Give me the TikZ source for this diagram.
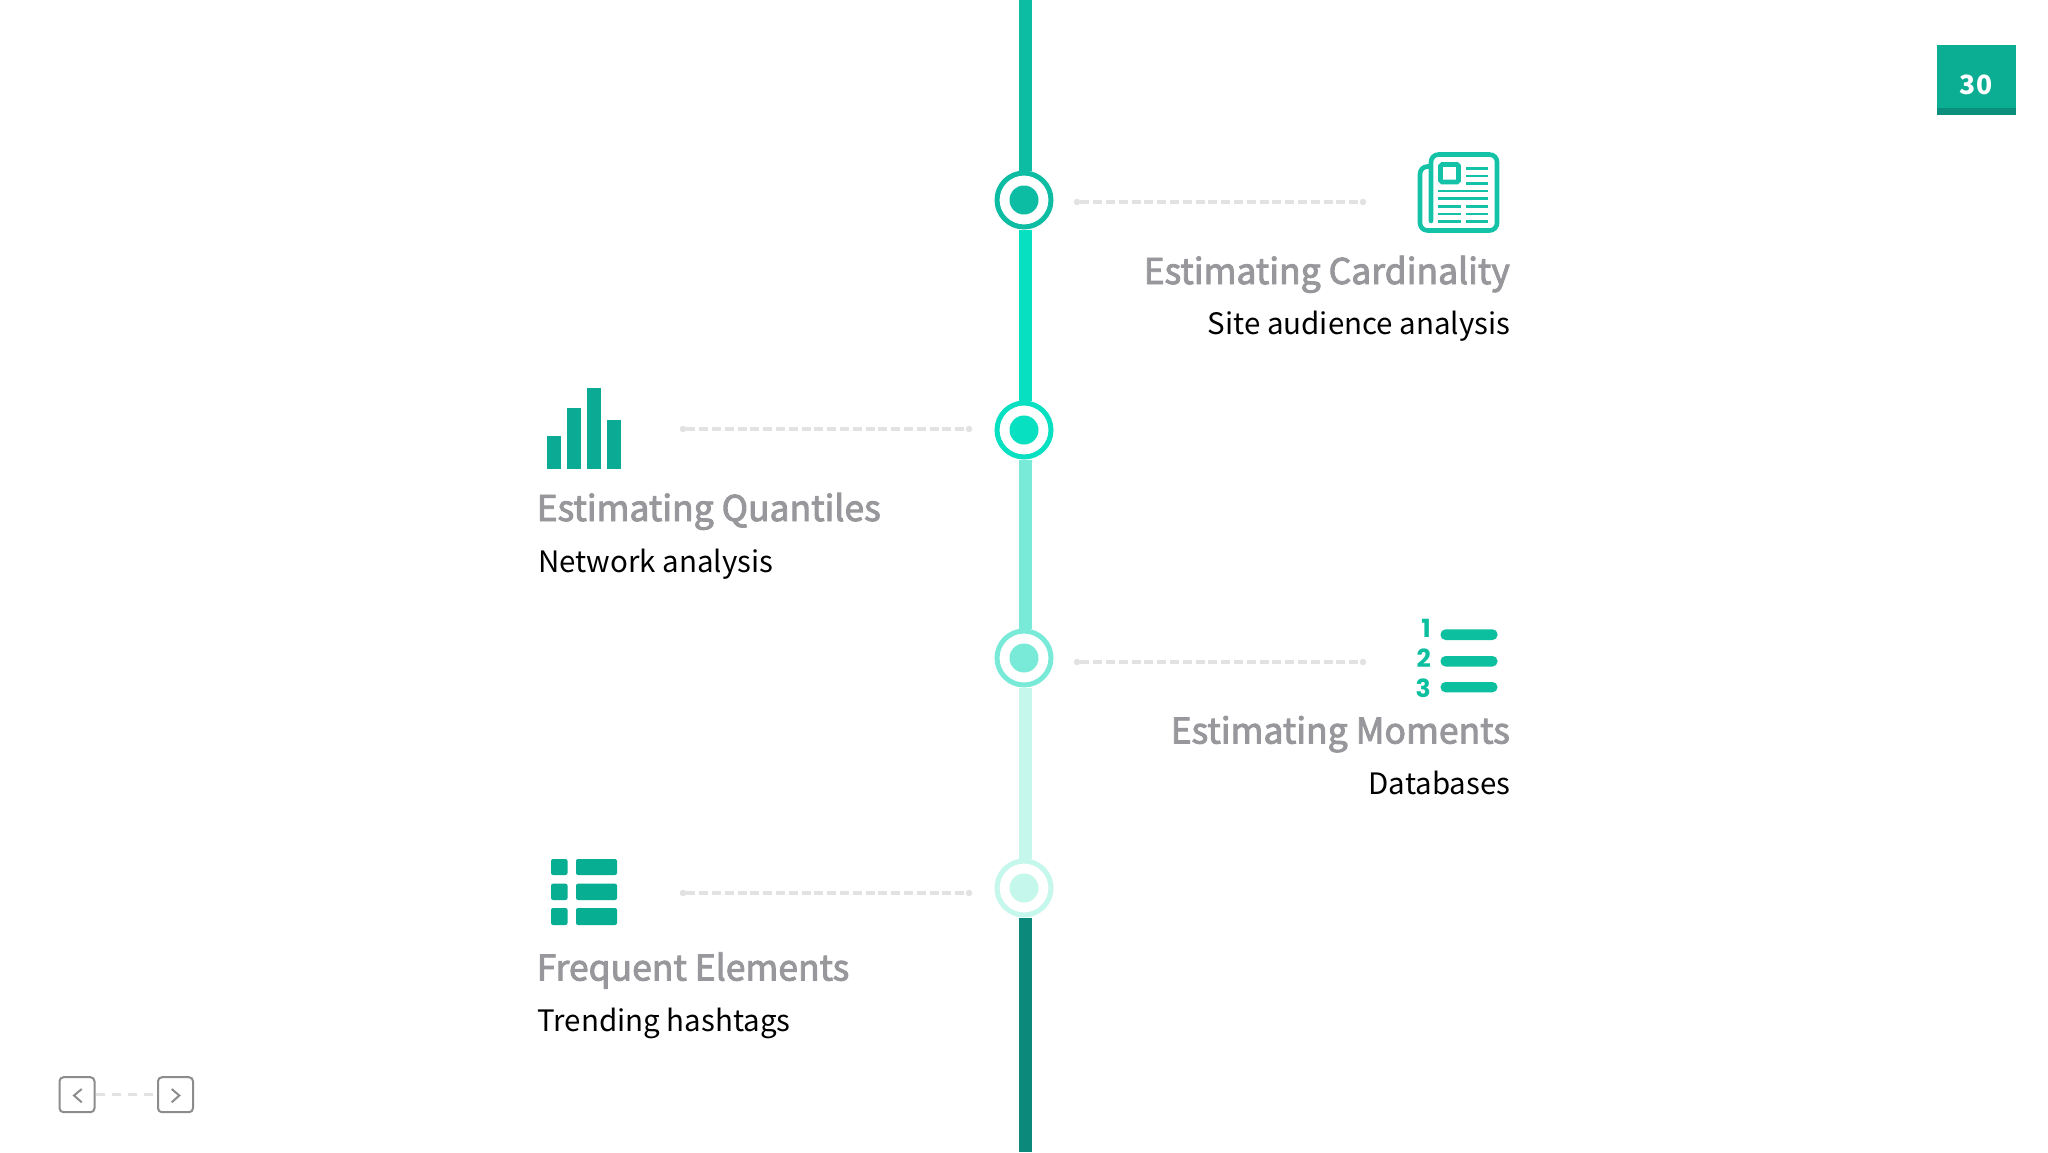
\documentclass[tikz,border=0pt]{standalone}
\usepackage{fontspec}
\usetikzlibrary{backgrounds}
\setmainfont{Noto Sans CJK SC}
\newfontfamily\headfont[FakeBold=2.6]{Noto Sans CJK SC}
\newfontfamily\digitfont{Poppins}
\definecolor{segA}{HTML}{0CBCA3}
\definecolor{segB}{HTML}{08E0C2}
\definecolor{segC}{HTML}{7AEAD8}
\definecolor{segD}{HTML}{C6F7EC}
\definecolor{segE}{HTML}{0B8A7B}
\definecolor{dashgrey}{HTML}{E2E2E2}
\definecolor{headgrey}{HTML}{98989C}
\definecolor{barteal}{HTML}{0BAA94}
\definecolor{tableteal}{HTML}{07AE92}
\definecolor{listteal}{HTML}{0CBF9F}
\definecolor{paperteal}{HTML}{14C2A8}
\definecolor{navgrey}{HTML}{8C8C8C}
\definecolor{badge}{HTML}{0BAE93}
\definecolor{badgedark}{HTML}{0B8F7C}
\tikzset{
  x=1pt,y=-1pt,
  ring/.style={circle,draw=#1,fill=white,line width=5pt,minimum size=54pt,inner sep=0pt},
  core/.style={circle,fill=#1,minimum size=29pt,inner sep=0pt},
  spine/.style={draw=#1,line width=13pt},
  tip/.style={circle,fill=dashgrey,minimum size=6.5pt,inner sep=0pt},
  guide/.style={draw=dashgrey,line width=3.4pt,dash pattern=on 9pt off 3.8pt},
  headtxt/.style={font=\headfont\fontsize{35.5}{36}\selectfont,text=headgrey,inner sep=0pt},
  subtxt/.style={font=\fontsize{29.5}{30}\selectfont,text=black,inner sep=0pt},
  navbox/.style={draw=navgrey,line width=2pt,rounded corners=4pt,fill=white,minimum size=35pt,inner sep=0pt},
  chevron/.style={draw=navgrey,line width=2pt},
  digit/.style={font=\digitfont\bfseries\fontsize{25}{25}\selectfont,text=listteal,inner sep=0pt},
  paperline/.style={draw=paperteal,line width=2.6pt},
}
\begin{document}
\begin{tikzpicture}
\useasboundingbox (0,0) rectangle (2048,1152);

% spine nodes
\coordinate (top) at (1025,0);
\coordinate (bottom) at (1025,1152);
\node[ring=segA] (c1) at (1024,200) {};
\node[ring=segB] (c2) at (1024,430) {};
\node[ring=segC] (c3) at (1024,658) {};
\node[ring=segD] (c4) at (1024,888) {};
\begin{pgfonlayer}{background}
\fill[white] (0,0) rectangle (2048,1152);
\path[spine=segA] (top) -- ([xshift=1pt]c1.north);
\path[spine=segB] ([xshift=1pt]c1.south) -- ([xshift=1pt]c2.north);
\path[spine=segC] ([xshift=1pt]c2.south) -- ([xshift=1pt]c3.north);
\path[spine=segD] ([xshift=1pt]c3.south) -- ([xshift=1pt]c4.north);
\path[spine=segE] ([xshift=1pt]c4.south) -- (bottom);
\end{pgfonlayer}
\node[core=segA] (d1) at (c1) {};
\node[core=segB] (d2) at (c2) {};
\node[core=segC] (d3) at (c3) {};
\node[core=segD] (d4) at (c4) {};

% dashed guides
\node[tip] (g1a) at (1077,202) {}; \node[tip] (g1b) at (1363,202) {};
\node[tip] (g2a) at (683,429) {};  \node[tip] (g2b) at (969,429) {};
\node[tip] (g3a) at (1077,662) {}; \node[tip] (g3b) at (1363,662) {};
\node[tip] (g4a) at (683,893) {};  \node[tip] (g4b) at (969,893) {};
\path[guide] (g1a) -- (g1b);
\path[guide] (g2a) -- (g2b);
\path[guide] (g3a) -- (g3b);
\path[guide] (g4a) -- (g4b);

% texts
\node[headtxt,anchor=base east] (t1) at (1510,284) {Estimating Cardinality};
\node[subtxt,anchor=base east] (s1) at (1510.5,334) {Site audience analysis};
\node[headtxt,anchor=base west] (t2) at (536.5,521) {Estimating Quantiles};
\node[subtxt,anchor=base west] (s2) at (538,572) {Network analysis};
\node[headtxt,anchor=base east] (t3) at (1510,743.5) {Estimating Moments};
\node[subtxt,anchor=base east] (s3) at (1510.5,794) {Databases};
\node[headtxt,anchor=base west] (t4) at (536.5,980.5) {Frequent Elements};
\node[subtxt,anchor=base west] (s4) at (537.5,1031.5) {Trending hashtags};

% newspaper icon
\draw[draw=paperteal,line width=4.6pt,line cap=round,line join=round,rounded corners=7.5pt]
  (1431,221) -- (1431,154.5) -- (1497,154.5) -- (1497,230.5) -- (1420,230.5) -- (1420,166.5) -- (1431,166.5);
\draw[draw=paperteal,line width=4.6pt,rounded corners=1.5pt] (1440.5,164.5) rectangle (1458.5,182);
\foreach \yy in {168.3,176,183.3} \draw[paperline] (1466,\yy) -- (1488,\yy);
\foreach \yy in {191,198.7} \draw[paperline] (1438,\yy) -- (1488,\yy);
\foreach \yy in {206.3,214,221.7} {
  \draw[paperline] (1438,\yy) -- (1461,\yy);
  \draw[paperline] (1466,\yy) -- (1488,\yy);
}

% bars icon
\fill[barteal] (547,436) rectangle (561,468.5);
\fill[barteal] (567,408) rectangle (581,468.5);
\fill[barteal] (587,388) rectangle (601,468.5);
\fill[barteal] (607,420) rectangle (621,468.5);

% numbered list icon
\node[digit,anchor=base east] (n1) at (1431,637) {1};
\node[digit,anchor=base east] (n2) at (1431,667.5) {2};
\node[digit,anchor=base east] (n3) at (1431,697) {3};
\foreach \ya/\yb in {629.3/640,656/666.5,682/692.3}
  \fill[listteal,rounded corners=5pt] (1440.5,\ya) rectangle (1497.5,\yb);

% table icon
\foreach \ya/\yb in {859/875,883.7/900,908/925} {
  \fill[tableteal,rounded corners=2pt] (551,\ya) rectangle (567.5,\yb);
  \fill[tableteal,rounded corners=2pt] (576,\ya) rectangle (617,\yb);
}

% navigation
\node[navbox] (prev) at (77,1094.7) {};
\node[navbox] (next) at (175.5,1094.7) {};
\draw[draw=dashgrey,line width=2.5pt,dash pattern=on 9pt off 7pt] (prev.east) -- (next.west);
\draw[chevron] (81.7,1089) -- (74,1095.5) -- (81.7,1102.3);
\draw[chevron] (171.7,1089) -- (179.3,1095.5) -- (171.7,1102.3);

% page badge
\fill[badge] (1936.7,45.3) rectangle (2016,115.3);
\fill[badgedark] (1936.7,108.3) rectangle (2016,115.3);
\node[anchor=base,font=\bfseries\fontsize{26.5}{27}\selectfont,text=white,inner sep=0pt] (page) at (1976,94) {30};
\end{tikzpicture}
\end{document}
